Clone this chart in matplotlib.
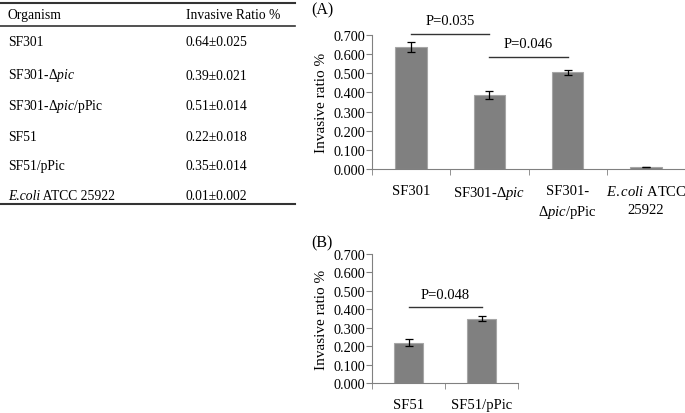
import numpy as np
import matplotlib
matplotlib.use("Agg")
import matplotlib.pyplot as plt

plt.rcParams["font.family"] = ["Liberation Serif", "DejaVu Serif"]
plt.rcParams["mathtext.fontset"] = "custom"
plt.rcParams["mathtext.rm"] = "Liberation Serif"
plt.rcParams["mathtext.it"] = "Liberation Serif:italic"

# table data
organisms = ["SF301", "SF301-Δ$\\it{pic}$", "SF301-Δ$\\it{pic}$/pPic",
             "SF51", "SF51/pPic", "$\\it{E.coli}$ ATCC 25922"]
ratio_text = ["0.64±0.025", "0.39±0.021", "0.51±0.014",
              "0.22±0.018", "0.35±0.014", "0.01±0.002"]

# panel A
labels_a = ["SF301", "SF301-Δ$\\it{pic}$", "SF301-\nΔ$\\it{pic}$/pPic",
            "$\\it{E.coli}$ ATCC\n25922"]
values_a = [0.638, 0.385, 0.505, 0.010]
errors_a = [0.025, 0.021, 0.014, 0.002]
pairs_a = [(0, 1, 0.706, "P=0.035"), (1, 2, 0.587, "P=0.046")]

# panel B
labels_b = ["SF51", "SF51/pPic"]
values_b = [0.219, 0.350]
errors_b = [0.018, 0.014]
pairs_b = [(0, 1, 0.41, "P=0.048")]

W, H = 685, 414
fig = plt.figure(figsize=(W / 100, H / 100), dpi=100)


def px_rect(x0, y0, x1, y1):
    return [x0 / W, 1 - y1 / H, (x1 - x0) / W, (y1 - y0) / H]


# ---- table + panel tags (pixel coords) ----
tab = fig.add_axes([0, 0, 1, 1])
tab.set_xlim(0, W)
tab.set_ylim(H, 0)
tab.axis("off")
tab.plot([0, 295], [4, 4], color="#333333", lw=1.5)
tab.plot([0, 295], [27, 27], color="#333333", lw=1.2)
tab.plot([0, 295], [205, 205], color="#333333", lw=1.5)
tab.text(8, 15.5, "Organism", fontsize=9.8, va="center")
tab.text(186, 15.5, "Invasive Ratio %", fontsize=9.8, va="center")
row_y = [43, 76, 107, 138, 167, 197]
for org, val, yy in zip(organisms, ratio_text, row_y):
    if org.startswith("$\\it{E.coli}$"):
        # italic part and plain part as two texts (avoids digit overlap)
        t = tab.text(8, yy, "E.coli", fontsize=9.8, va="center", style="italic")
        tab.annotate(org.split("$")[-1], xy=(1, 0.5), xycoords=t,
                     fontsize=9.8, va="center", ha="left")
    else:
        tab.text(8, yy, org, fontsize=9.8, va="center")
    tab.text(186, yy, val, fontsize=9.8, va="center")
tab.text(311, 10, "(A)", fontsize=11.5, va="center")
tab.text(311, 243, "(B)", fontsize=11.5, va="center")


def bar_panel(ax, labels, values, errors, pairs):
    x = np.arange(len(values))
    ax.bar(x, values, width=0.4, color="#808080", edgecolor="#a6a6a6", lw=0.8)
    ax.errorbar(x, values, yerr=errors, fmt="none", ecolor="black",
                elinewidth=0.9, capsize=3, capthick=0.9)
    ax.set_xlim(-0.5, len(values) - 0.5)
    ax.set_ylim(0, 0.7)
    ticks = np.arange(0, 0.71, 0.1)
    ax.set_yticks(ticks)
    ax.set_yticklabels([f"{v:.3f}" for v in ticks])
    ax.set_xticks(x)
    ax.set_xticklabels(labels, fontsize=10.5, linespacing=1.45)
    ax.set_xticks(np.arange(-0.5, len(values)), minor=True)
    ax.tick_params(axis="x", which="major", length=0, pad=11)
    ax.tick_params(axis="x", which="minor", length=4, color="#808080")
    ax.tick_params(axis="y", length=4, color="#808080", labelsize=10.3, pad=1)
    for s in ["top", "right"]:
        ax.spines[s].set_visible(False)
    for s in ["left", "bottom"]:
        ax.spines[s].set_color("#808080")
    ax.set_ylabel("Invasive ratio %", fontsize=11, labelpad=4)
    for i, j, yy, txt in pairs:
        ax.plot([i, j], [yy, yy], color="#333333", lw=1.0, clip_on=False)
        ax.text((i + j) / 2, yy + 0.035, txt, ha="center", va="bottom",
                fontsize=10.5)


ax_a = fig.add_axes(px_rect(372, 36, 685, 170))
bar_panel(ax_a, labels_a, values_a, errors_a, pairs_a)

ax_b = fig.add_axes(px_rect(372, 255, 518, 384))
bar_panel(ax_b, labels_b, values_b, errors_b, pairs_b)

fig.savefig("out.png", dpi=100)
